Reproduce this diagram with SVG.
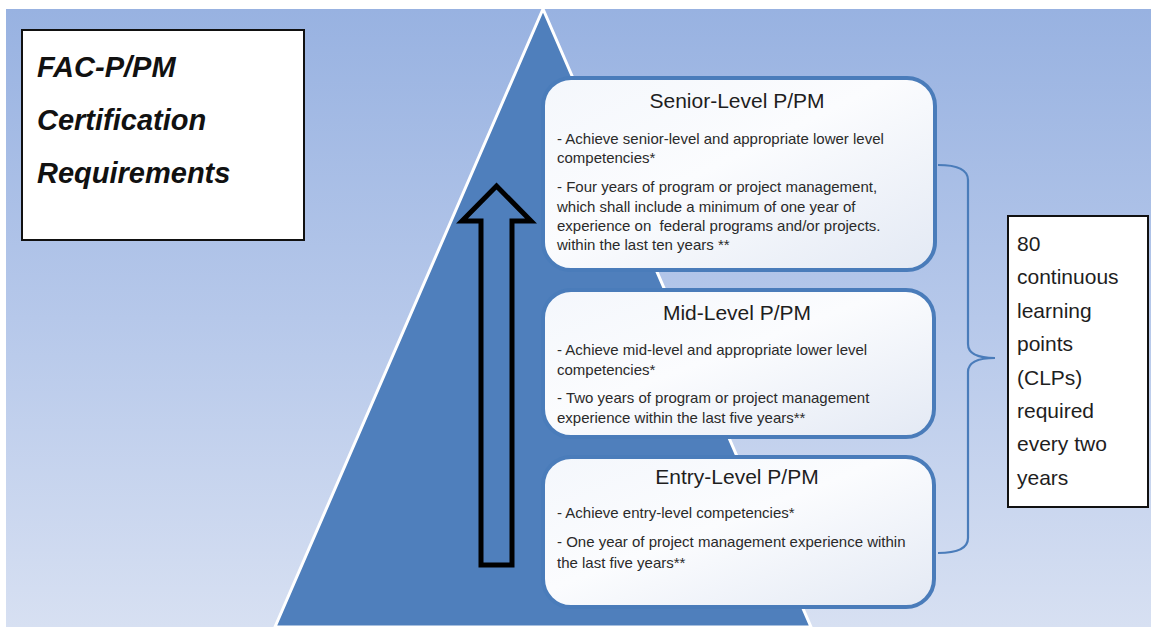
<svg xmlns="http://www.w3.org/2000/svg" width="1151" height="628" viewBox="0 0 1151 628">
  <defs>
    <linearGradient id="bg" x1="0" y1="0" x2="0" y2="1">
      <stop offset="0" stop-color="#98b2e1"/>
      <stop offset="0.5" stop-color="#b6c8ea"/>
      <stop offset="1" stop-color="#d7e0f2"/>
    </linearGradient>
    <linearGradient id="card" x1="0" y1="0" x2="1" y2="1">
      <stop offset="0" stop-color="#f4f7fc"/>
      <stop offset="0.45" stop-color="#fbfcfe"/>
      <stop offset="1" stop-color="#e3e9f4"/>
    </linearGradient>
    <style>
      .card { fill: url(#card); stroke: #4a7cba; stroke-width: 4; }
      .title { font-family: "Liberation Sans", Arial, sans-serif; font-size: 21px; fill: #1e1e1e; text-anchor: middle; }
      .body { font-family: "Liberation Sans", Arial, sans-serif; font-size: 15px; fill: #2a2a2a; }
      .head { font-family: "Liberation Sans", Arial, sans-serif; font-size: 29px; font-weight: bold; font-style: italic; fill: #111; }
      .clp { font-family: "Liberation Sans", Arial, sans-serif; font-size: 21px; fill: #1e1e1e; }
      .box { fill: #ffffff; stroke: #111; stroke-width: 2; }
    </style>
  </defs>

  <!-- page and backdrop -->
  <rect x="0" y="0" width="1151" height="628" fill="#ffffff"/>
  <rect x="6" y="9" width="1145" height="618" fill="url(#bg)"/>

  <!-- pyramid -->
  <polygon id="pyramid" points="543,9 275,627 811,627" fill="#4f7fbc" stroke="#ffffff" stroke-width="3" stroke-linejoin="miter"/>

  <!-- title box -->
  <g id="title-box">
    <rect class="box" x="22" y="30" width="282" height="210"/>
    <text class="head" x="37" y="77">FAC-P/PM</text>
    <text class="head" x="37" y="130">Certification</text>
    <text class="head" x="37" y="183">Requirements</text>
  </g>

  <!-- connectors: upward arrow and brace -->
  <g id="connectors">
    <path d="M496.5,186 L531,221 L512,221 L512,565 L481,565 L481,221 L462,221 Z" fill="none" stroke="#000" stroke-width="5" stroke-linejoin="miter"/>
    <path d="M938,165 Q968,165 968,180 L968,344 Q968,358 995,358 Q968,358 968,372 L968,538 Q968,553 938,553" fill="none" stroke="#4a7cba" stroke-width="2.2"/>
  </g>

  <!-- senior level -->
  <g id="senior">
    <rect class="card" x="543" y="78" width="392" height="192" rx="28" ry="28"/>
    <text class="title" x="737" y="108">Senior-Level P/PM</text>
    <text class="body" x="557" y="144">- Achieve senior-level and appropriate lower level</text>
    <text class="body" x="557" y="163">competencies*</text>
    <text class="body" x="557" y="192">- Four years of program or project management,</text>
    <text class="body" x="557" y="212">which shall include a minimum of one year of</text>
    <text class="body" x="557" y="231" xml:space="preserve">experience on  federal programs and/or projects.</text>
    <text class="body" x="557" y="250">within the last ten years **</text>
  </g>

  <!-- mid level -->
  <g id="mid">
    <rect class="card" x="543" y="290" width="391" height="147" rx="28" ry="28"/>
    <text class="title" x="737" y="320">Mid-Level P/PM</text>
    <text class="body" x="557" y="355">- Achieve mid-level and appropriate lower level</text>
    <text class="body" x="557" y="375">competencies*</text>
    <text class="body" x="557" y="403">- Two years of program or project management</text>
    <text class="body" x="557" y="423">experience within the last five years**</text>
  </g>

  <!-- entry level -->
  <g id="entry">
    <rect class="card" x="543" y="457" width="391" height="150" rx="28" ry="28"/>
    <text class="title" x="737" y="484">Entry-Level P/PM</text>
    <text class="body" x="557" y="518">- Achieve entry-level competencies*</text>
    <text class="body" x="557" y="547">- One year of project management experience within</text>
    <text class="body" x="557" y="568">the last five years**</text>
  </g>

  <!-- continuous learning note -->
  <g id="clp-note">
    <rect class="box" x="1008" y="216" width="140" height="291"/>
    <text class="clp" x="1017" y="251">80</text>
    <text class="clp" x="1017" y="284">continuous</text>
    <text class="clp" x="1017" y="318">learning</text>
    <text class="clp" x="1017" y="351">points</text>
    <text class="clp" x="1017" y="385">(CLPs)</text>
    <text class="clp" x="1017" y="418">required</text>
    <text class="clp" x="1017" y="451">every two</text>
    <text class="clp" x="1017" y="485">years</text>
  </g>
</svg>
